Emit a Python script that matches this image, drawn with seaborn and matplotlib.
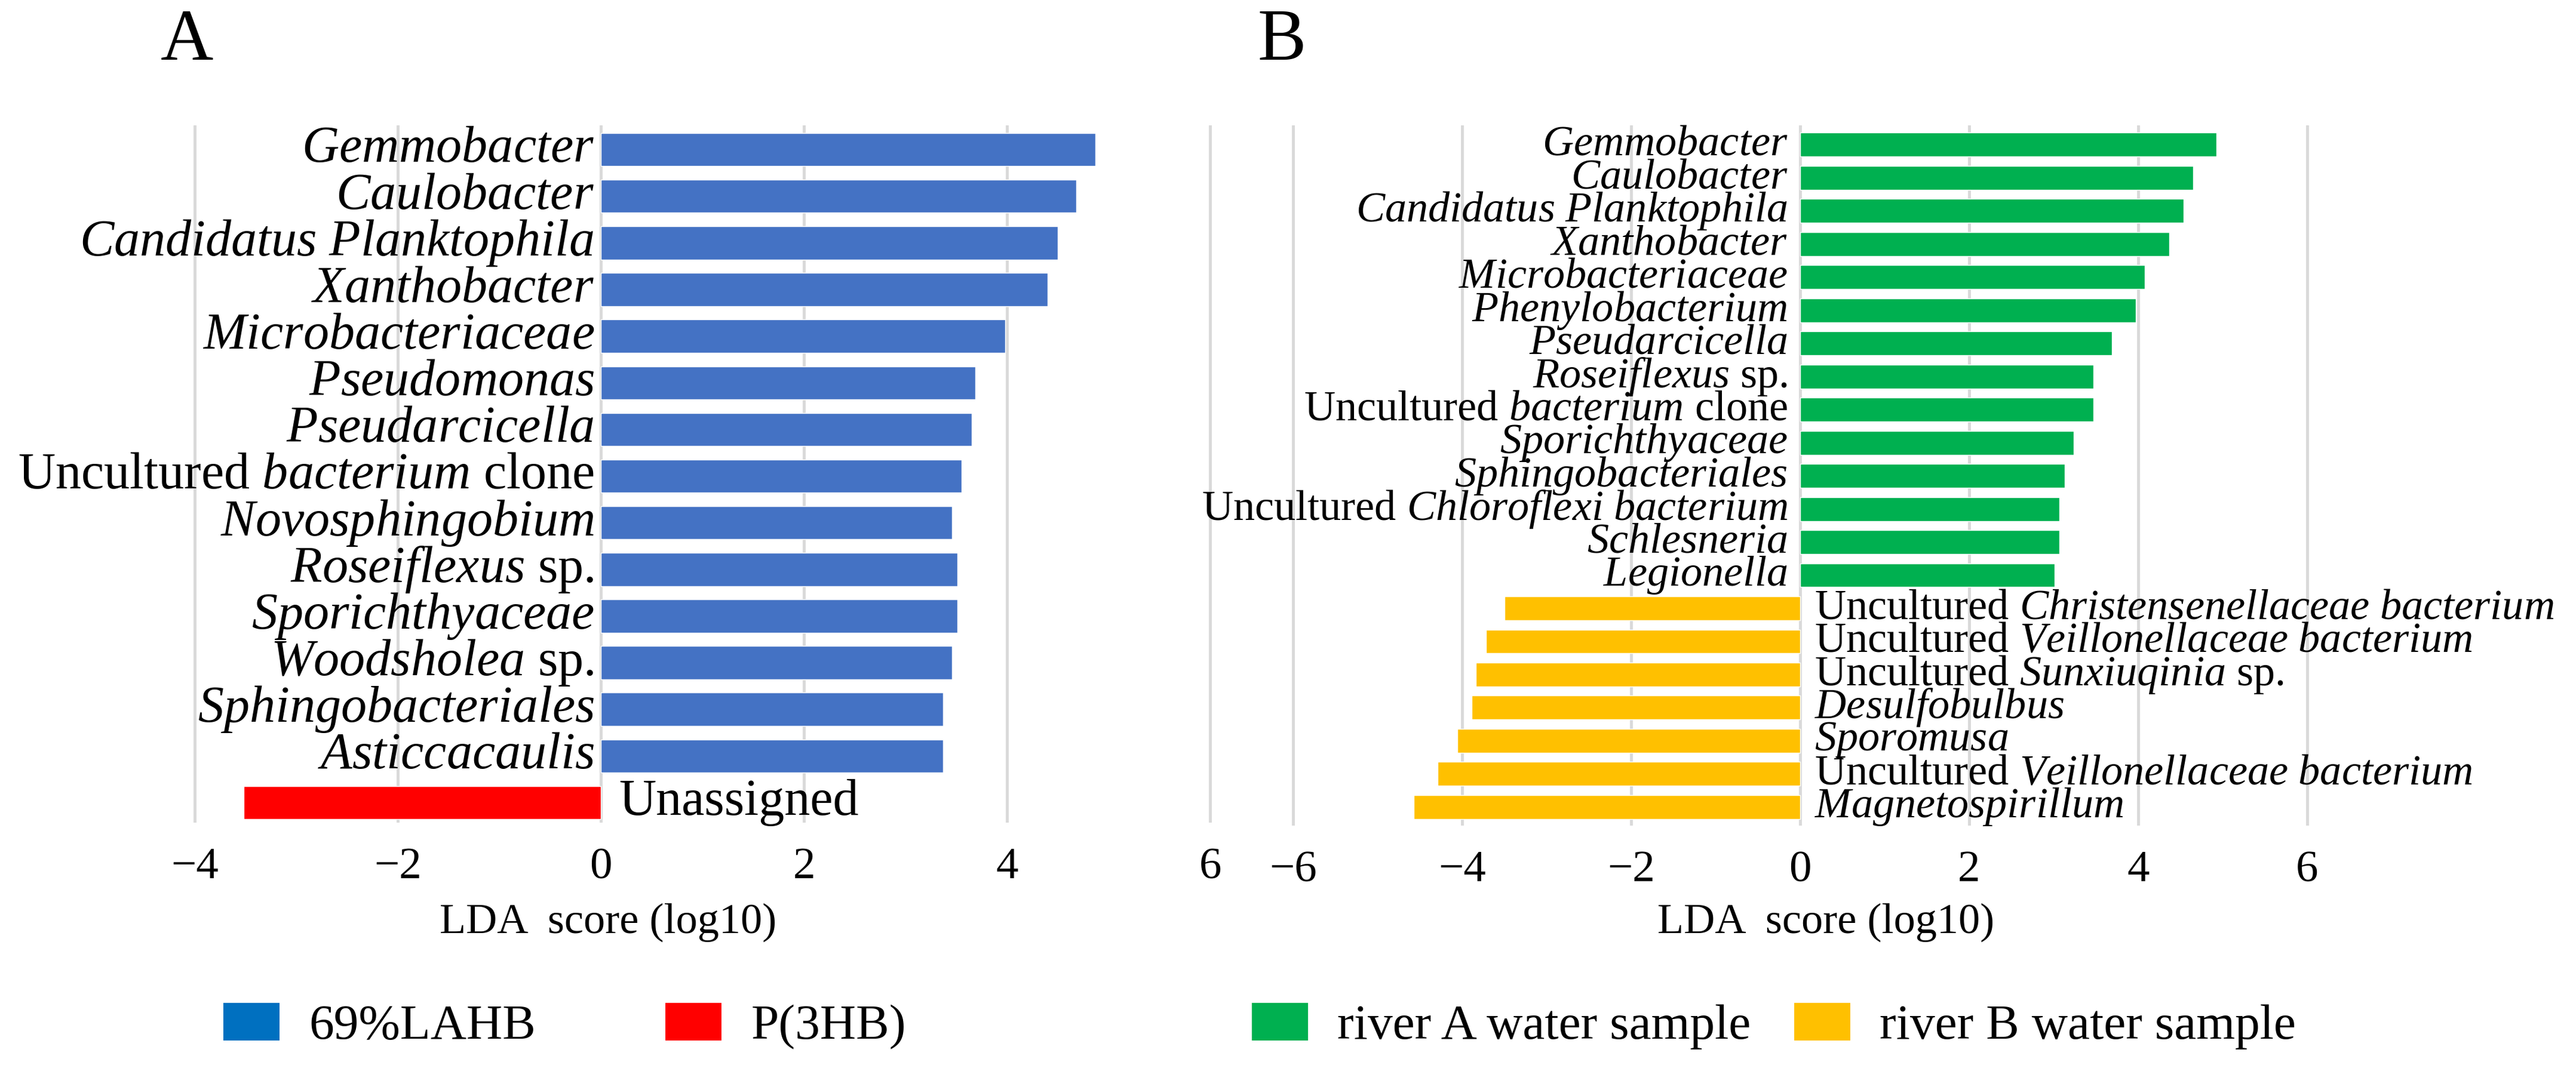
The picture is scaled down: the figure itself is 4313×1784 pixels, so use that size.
import matplotlib
matplotlib.use("Agg")
import matplotlib.pyplot as plt
from matplotlib.patches import Patch
import pandas as pd
import seaborn as sns

# ---- panel A data ----
a_labels = [
    r"$\mathit{Gemmobacter}$",
    r"$\mathit{Caulobacter}$",
    r"$\mathit{Candidatus\ Planktophila}$",
    r"$\mathit{Xanthobacter}$",
    r"$\mathit{Microbacteriaceae}$",
    r"$\mathit{Pseudomonas}$",
    r"$\mathit{Pseudarcicella}$",
    r"Uncultured $\mathit{bacterium}$ clone",
    r"$\mathit{Novosphingobium}$",
    r"$\mathit{Roseiflexus}$ sp.",
    r"$\mathit{Sporichthyaceae}$",
    r"$\mathit{Woodsholea}$ sp.",
    r"$\mathit{Sphingobacteriales}$",
    r"$\mathit{Asticcacaulis}$",
    "Unassigned",
]
a_scores = [4.87, 4.68, 4.50, 4.40, 3.98, 3.69, 3.65, 3.55, 3.46, 3.51,
            3.51, 3.46, 3.37, 3.37, -3.52]
a_groups = ["69%LAHB"] * 14 + ["P(3HB)"]
a_ticks = [-4, -2, 0, 2, 4, 6]

# ---- panel B data ----
b_labels = [
    r"$\mathit{Gemmobacter}$",
    r"$\mathit{Caulobacter}$",
    r"$\mathit{Candidatus\ Planktophila}$",
    r"$\mathit{Xanthobacter}$",
    r"$\mathit{Microbacteriaceae}$",
    r"$\mathit{Phenylobacterium}$",
    r"$\mathit{Pseudarcicella}$",
    r"$\mathit{Roseiflexus}$ sp.",
    r"Uncultured $\mathit{bacterium}$ clone",
    r"$\mathit{Sporichthyaceae}$",
    r"$\mathit{Sphingobacteriales}$",
    r"Uncultured $\mathit{Chloroflexi\ bacterium}$",
    r"$\mathit{Schlesneria}$",
    r"$\mathit{Legionella}$",
    r"Uncultured $\mathit{Christensenellaceae\ bacterium}$",
    r"Uncultured $\mathit{Veillonellaceae\ bacterium}$",
    r"Uncultured $\mathit{Sunxiuqinia}$ sp.",
    r"$\mathit{Desulfobulbus}$",
    r"$\mathit{Sporomusa}$",
    r"Uncultured $\mathit{Veillonellaceae\ bacterium}$",
    r"$\mathit{Magnetospirillum}$",
]
b_scores = [4.93, 4.65, 4.54, 4.37, 4.08, 3.97, 3.69, 3.47, 3.47, 3.24,
            3.13, 3.07, 3.07, 3.01, -3.50, -3.72, -3.84, -3.89, -4.06,
            -4.29, -4.57]
b_groups = ["river A water sample"] * 14 + ["river B water sample"] * 7
b_ticks = [-6, -4, -2, 0, 2, 4, 6]

a_palette = {"69%LAHB": "#4472C4", "P(3HB)": "#FF0000"}
a_legend_colors = {"69%LAHB": "#0070C0", "P(3HB)": "#FF0000"}
b_palette = {"river A water sample": "#00B050", "river B water sample": "#FFC000"}

sns.set_style("white")
plt.rcParams["font.family"] = ["Liberation Serif", "DejaVu Serif"]
plt.rcParams["mathtext.fontset"] = "custom"
plt.rcParams["mathtext.rm"] = "Liberation Serif"
plt.rcParams["mathtext.it"] = "Liberation Serif:italic"
plt.rcParams["text.color"] = "black"
plt.rcParams["axes.labelcolor"] = "black"
plt.rcParams["xtick.color"] = "black"

W, H = 4313, 1784
fig = plt.figure(figsize=(W / 100, H / 100), dpi=100)
ax_a = fig.add_axes([309 / W, 1 - 1378 / H, 1734 / W, 1168 / H])
ax_b = fig.add_axes([2151 / W, 1 - 1383 / H, 1726 / W, 1173 / H])


def draw_panel(ax, labels, scores, groups, palette, ticks, xlim, width,
               ypad, fsize, gaps):
    df = pd.DataFrame({"rank": range(len(scores)), "score": scores, "group": groups})
    sns.barplot(data=df, x="score", y="rank", hue="group", palette=palette,
                orient="h", dodge=False, width=width, saturation=1,
                legend=False, ax=ax)
    ax.set_xlim(*xlim)
    ax.set_ylim(len(scores) - 1 + ypad[1], -ypad[0])
    ax.set_xticks(ticks)
    ax.grid(axis="x", color="#D9D9D9", linewidth=3.5)
    ax.grid(axis="y", visible=False)
    ax.set_axisbelow(True)
    ax.tick_params(axis="x", length=0, pad=30, labelsize=54, labelcolor="black")
    ax.tick_params(axis="y", left=False, labelleft=False)
    ax.set_ylabel("")
    sns.despine(ax=ax, left=True, bottom=True)
    for i, (lab, val) in enumerate(zip(labels, scores)):
        if val >= 0:
            ax.annotate(lab, xy=(0, i), xytext=(-gaps[0], 0),
                        textcoords="offset points", ha="right", va="center",
                        fontsize=fsize, color="black", annotation_clip=False)
        else:
            ax.annotate(lab, xy=(0, i), xytext=(gaps[1], 0),
                        textcoords="offset points", ha="left", va="center",
                        fontsize=fsize, color="black", annotation_clip=False)


draw_panel(ax_a, a_labels, a_scores, a_groups, a_palette, a_ticks,
           (-4.1, 6.1), 0.71, (0.52, 0.43), 62, (8, 22))
draw_panel(ax_b, b_labels, b_scores, b_groups, b_palette, b_ticks,
           (-6.1, 6.1), 0.72, (0.58, 0.56), 52, (15, 17))

for ax, xc, yc in [(ax_a, 0.409, -0.143), (ax_b, 0.525, -0.138)]:
    ax.set_xlabel("LDA  score (log10)", fontsize=52, color="black")
    ax.xaxis.set_label_coords(xc, yc)
    ax.xaxis.label.set_va("center")

fig.text(313 / W, 1 - 70 / H, "A", fontsize=88, ha="center", va="center")
fig.text(2146 / W, 1 - 70 / H, "B", fontsize=88, ha="center", va="center")

leg_fs = 60
for names, colors, x0, colsp in [
    (list(a_legend_colors), a_legend_colors, 374, 2.6),
    (list(b_palette), b_palette, 2096, 0.87),
]:
    handles = [Patch(facecolor=colors[n], edgecolor="none", label=n) for n in names]
    fig.legend(handles=handles, loc="center left",
               bbox_to_anchor=(x0 / W, 1 - 1719 / H), ncol=2, frameon=False,
               fontsize=leg_fs, borderpad=0, borderaxespad=0,
               handlelength=1.13, handleheight=0.78, handletextpad=0.59,
               columnspacing=colsp, labelcolor="black")

fig.savefig("out.png", dpi=100)
